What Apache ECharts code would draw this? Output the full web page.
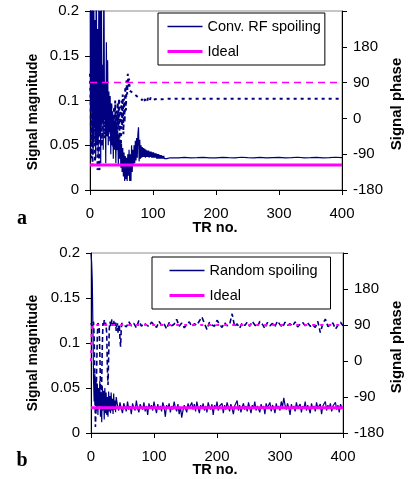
<!DOCTYPE html>
<html><head><meta charset="utf-8">
<script src="https://cdn.jsdelivr.net/npm/echarts@6/dist/echarts.min.js"></script>
<style>html,body{margin:0;padding:0;background:#fff}#c{width:412px;height:479px}</style>
</head><body><div id="c"></div><script>
// ---------- DATA ----------
const xTicks = [0, 100, 200, 300, 400];
const magTicks = [0, 0.05, 0.1, 0.15, 0.2];
const phaseTicks = [-180, -90, 0, 90, 180];

// Panel a: conventional RF spoiling, magnitude for TR 0..130
const convMag = [
0.50,0.09,0.26,0.05,0.31,0.04,0.22,0.07,0.19,0.035,
0.27,0.05,0.18,0.04,0.21,0.06,0.20,0.03,0.24,0.075,
0.14,0.045,0.26,0.08,0.12,0.03,0.165,0.06,0.145,0.05,
0.11,0.065,0.105,0.04,0.095,0.05,0.088,0.035,0.082,0.045,
0.077,0.03,0.072,0.045,0.066,0.028,0.062,0.035,0.056,0.025,
0.052,0.02,0.047,0.015,0.042,0.01,0.038,0.012,0.036,0.01,
0.04,0.016,0.045,0.01,0.04,0.01,0.05,0.02,0.045,0.028,
0.05,0.03,0.055,0.033,0.058,0.036,0.062,0.07,0.032,0.056,
0.035,0.05,0.036,0.048,0.037,0.047,0.037,0.046,0.036,0.045,
0.037,0.044,0.037,0.044,0.036,0.043,0.037,0.043,0.036,0.042,
0.036,0.042,0.036,0.041,0.036,0.041,0.035,0.04,0.035,0.04,
0.035,0.039,0.035,0.039,0.035,0.038,0.035,0.038,0.035,0.037,
0.035,0.037,0.035,0.037,0.035,0.036,0.036,0.036,0.036,0.036,
0.036];
// Panel a: magnitude for later TRs, [TR, value]
const convMagTail = [[140,0.036],[150,0.0365],[160,0.036],[170,0.0362],[180,0.0365],[190,0.0358],[200,0.036],[210,0.0365],[220,0.0362],[230,0.036],[240,0.0366],[250,0.0362],[260,0.036],[270,0.0365],[280,0.0358],[290,0.0362],[300,0.0365],[310,0.036],[320,0.0362],[330,0.0366],[340,0.036],[350,0.0362],[360,0.0365],[370,0.036],[380,0.0362],[390,0.0366],[400,0.0362]];
// Panel a: phase (degrees) for TR 0..120
const convPhase = [
112,45,-100,60,-120,30,-60,80,-110,20,
-40,70,-130,10,-80,-130,40,-20,55,-70,
25,-10,45,-50,5,30,-30,15,-45,20,
-20,35,-60,0,40,-40,10,-75,30,-30,
45,-55,20,-80,40,-25,50,-60,30,-85,
45,-20,60,-40,50,-10,80,20,95,60,
112,80,100,70,75,68,70,65,68,62,
66,60,64,58,62,55,58,52,56,50,
54,47,53,46,52,48,51,44,52,47,
50,45,51,48,50,44,52,47,51,46,
50,44,51,48,50,45,52,49,50,46,
51,48,50,49,50,48,51,49,50,49,
50];
const convPhaseTail = [[130,49.5],[200,49.5],[300,49.5],[400,49.5]];
const idealMag = [[0,0.028],[400,0.028]];
const idealPhaseA = [[0,90],[400,90]];

// Panel b: random spoiling, magnitude TR 0..40
const randMagEarly = [
0.2,0.19,0.17,0.12,0.06,0.035,0.066,0.03,0.06,0.025,
0.055,0.02,0.05,0.03,0.058,0.018,0.045,0.012,0.052,0.025,
0.047,0.015,0.05,0.022,0.045,0.02,0.04,0.018,0.046,0.024,
0.041,0.022,0.045,0.025,0.038,0.021,0.044,0.026,0.036,0.023,
0.04];
// Panel b: magnitude TR 42..400, every 2nd TR
const randMagLate = [
0.031,0.025,0.034,0.027,0.022,0.033,0.029,0.024,0.035,0.026,
0.030,0.021,0.033,0.028,0.025,0.036,0.027,0.023,0.032,0.029,
0.026,0.034,0.024,0.030,0.020,0.033,0.027,0.031,0.025,0.035,
0.028,0.022,0.032,0.026,0.030,0.024,0.034,0.029,0.018,0.031,
0.027,0.033,0.023,0.030,0.026,0.035,0.028,0.024,0.032,0.021,
0.029,0.017,0.025,0.031,0.027,0.023,0.033,0.028,0.030,0.034,
0.026,0.032,0.024,0.035,0.028,0.022,0.031,0.027,0.033,0.025,
0.030,0.023,0.034,0.029,0.026,0.032,0.020,0.031,0.027,0.035,
0.025,0.030,0.028,0.033,0.022,0.031,0.026,0.034,0.029,0.024,
0.032,0.027,0.021,0.030,0.028,0.036,0.025,0.031,0.023,0.029,
0.033,0.026,0.030,0.024,0.034,0.028,0.022,0.031,0.027,0.035,
0.025,0.030,0.029,0.023,0.032,0.027,0.030,0.021,0.033,0.028,
0.026,0.034,0.024,0.031,0.028,0.022,0.033,0.027,0.030,0.025,
0.035,0.029,0.039,0.031,0.026,0.033,0.028,0.020,0.032,0.027,
0.030,0.024,0.034,0.028,0.026,0.032,0.023,0.030,0.027,0.035,
0.025,0.031,0.029,0.022,0.033,0.027,0.030,0.024,0.034,0.028,
0.026,0.032,0.021,0.030,0.028,0.035,0.025,0.031,0.027,0.033,
0.024,0.030,0.028,0.034,0.026,0.031,0.023,0.032,0.029,0.027];
// Panel b: phase (degrees) TR 0..49
const randPhaseEarly = [
95,100,85,92,98,60,-40,-165,-120,-20,
60,95,100,85,20,-60,-105,-50,40,95,
88,102,90,96,85,70,-20,-60,10,80,
98,92,86,104,95,88,100,91,84,96,
75,88,94,70,85,92,55,36,80,95];
// Panel b: phase TR 52..400, every 4th TR
const randPhaseLate = [
92,85,98,88,94,83,101,87,95,90,
86,97,91,84,99,89,93,80,96,88,
92,104,87,95,83,91,98,86,93,89,
100,110,94,79,97,90,87,102,92,84,
96,88,91,118,86,93,82,95,89,97,
87,99,90,85,99,92,81,96,88,94,
86,100,91,84,97,89,93,87,98,85,
92,96,88,95,87,90,84,99,71,93,
105,86,91,95,80,89,97,88];
const idealPhaseB = [[0,0],[1,70],[2,90],[400,90]];

// ---------- BUILD ----------
const convMagData = convMag.map((v,i)=>[i,v]).concat(convMagTail);
const convPhaseData = convPhase.map((v,i)=>[i,v]).concat(convPhaseTail);
const randMagData = randMagEarly.map((v,i)=>[i,v]).concat(randMagLate.map((v,i)=>[42+2*i,v]));
const randPhaseData = randPhaseEarly.map((v,i)=>[i,v]).concat(randPhaseLate.map((v,i)=>[52+4*i,v]));

const F = '"Liberation Sans", Arial, sans-serif';
const NAVY = '#000080', MAG = '#ff00ff';
const lab = {color:'#000', fontSize:15, fontFamily:F};
function xAx(gi){return {type:'value', gridIndex:gi, min:xTicks[0], max:xTicks[xTicks.length-1], interval:xTicks[1]-xTicks[0],
  axisLine:{show:true,onZero:false,lineStyle:{color:'#000',width:1}}, axisTick:{show:true,length:5,lineStyle:{color:'#000'}},
  axisLabel:Object.assign({margin:16},lab), splitLine:{show:false}};}
function yL(gi){return {type:'value', gridIndex:gi, position:'left', min:magTicks[0], max:magTicks[magTicks.length-1], interval:magTicks[1]-magTicks[0],
  axisLine:{show:true,onZero:false,lineStyle:{color:'#000',width:1}}, axisTick:{show:true,length:5,lineStyle:{color:'#000'}},
  axisLabel:Object.assign({margin:11},lab), splitLine:{show:false}};}
function yR(gi){return {type:'value', gridIndex:gi, position:'right', min:phaseTicks[0], max:270, interval:90,
  axisLine:{show:true,onZero:false,lineStyle:{color:'#000',width:1}}, axisTick:{show:true,length:5,lineStyle:{color:'#000'}},
  axisLabel:Object.assign({margin:11, formatter:v=> phaseTicks.indexOf(v)>=0 ? String(v) : ''},lab), splitLine:{show:false}};}
function legend(top,left,names,pad){return {orient:'vertical', top:top, left:left,
  data:[{name:names[0], lineStyle:{width:1.3}}, {name:names[1], lineStyle:{width:3}}],
  itemWidth:35, itemHeight:14, itemGap:10, itemStyle:{opacity:0},
  padding:pad, borderColor:'#000', borderWidth:1, borderRadius:0, backgroundColor:'#fff',
  textStyle:{color:'#000', fontSize:14.5, fontFamily:F}, selectedMode:false};}
function txt(x,y,t,size,rot,font){return {type:'text', x:x, y:y, rotation:rot||0, z:100,
  style:{text:t, font: font || ('bold '+size+'px '+F), fill:'#000', textAlign:'center', textVerticalAlign:'middle', align:'center', verticalAlign:'middle'}};}

const base = {type:'line', symbol:'none', showSymbol:false, animation:false, sampling:null, clip:true};
const option = {
  animation:false,
  backgroundColor:'#fff',
  grid:[{left:90, top:11, width:252, height:179, show:true, borderColor:'#8c8c8c', borderWidth:1, backgroundColor:'#fff'},
        {left:91, top:253, width:252, height:180, show:true, borderColor:'#8c8c8c', borderWidth:1, backgroundColor:'#fff'}],
  xAxis:[xAx(0), xAx(1)],
  yAxis:[yL(0), yR(0), yL(1), yR(1)],
  legend:[legend(13,158,['Conv. RF spoiling','Ideal'],[6,4,6,8]), legend(257,152,['Random spoiling','Ideal'],[6,13,6,16])],
  series:[
    Object.assign({}, base, {name:'Conv. RF spoiling', xAxisIndex:0, yAxisIndex:0, data:convMagData, lineStyle:{color:NAVY,width:1.2}, itemStyle:{color:NAVY}}),
    Object.assign({}, base, {name:'Conv. RF spoiling phase', xAxisIndex:0, yAxisIndex:1, data:convPhaseData, lineStyle:{color:NAVY,width:2,type:[3,4]}, itemStyle:{color:NAVY}}),
    Object.assign({}, base, {name:'Ideal', xAxisIndex:0, yAxisIndex:0, data:idealMag, lineStyle:{color:MAG,width:3}, itemStyle:{color:MAG}}),
    Object.assign({}, base, {name:'Ideal phase a', xAxisIndex:0, yAxisIndex:1, data:idealPhaseA, lineStyle:{color:MAG,width:1.5,type:[7,5]}, itemStyle:{color:MAG}}),
    Object.assign({}, base, {name:'Random spoiling', xAxisIndex:1, yAxisIndex:2, data:randMagData, lineStyle:{color:NAVY,width:1.2}, itemStyle:{color:NAVY}}),
    Object.assign({}, base, {name:'Random spoiling phase', xAxisIndex:1, yAxisIndex:3, data:randPhaseData, lineStyle:{color:NAVY,width:1.6,type:[5,3]}, itemStyle:{color:NAVY}}),
    Object.assign({}, base, {name:'Ideal', xAxisIndex:1, yAxisIndex:2, data:idealMag, lineStyle:{color:MAG,width:3}, itemStyle:{color:MAG}}),
    Object.assign({}, base, {name:'Ideal phase b', xAxisIndex:1, yAxisIndex:3, data:idealPhaseB, lineStyle:{color:MAG,width:2,type:[3,5]}, itemStyle:{color:MAG}})
  ],
  graphic:[
    txt(33,112,'Signal magnitude',14,Math.PI/2),
    txt(397,104,'Signal phase',15,Math.PI/2),
    txt(215,228,'TR no.',14.5,0),
    txt(22,219,'a',20,0,'bold 20px "Liberation Serif", "Times New Roman", serif'),
    txt(33,353,'Signal magnitude',14,Math.PI/2),
    txt(397,347,'Signal phase',15,Math.PI/2),
    txt(215,470,'TR no.',14.5,0),
    txt(22,461,'b',20,0,'bold 20px "Liberation Serif", "Times New Roman", serif')
  ]
};
const chart = echarts.init(document.getElementById('c'), null, {renderer:'canvas'});
chart.setOption(option);
</script></body></html>
